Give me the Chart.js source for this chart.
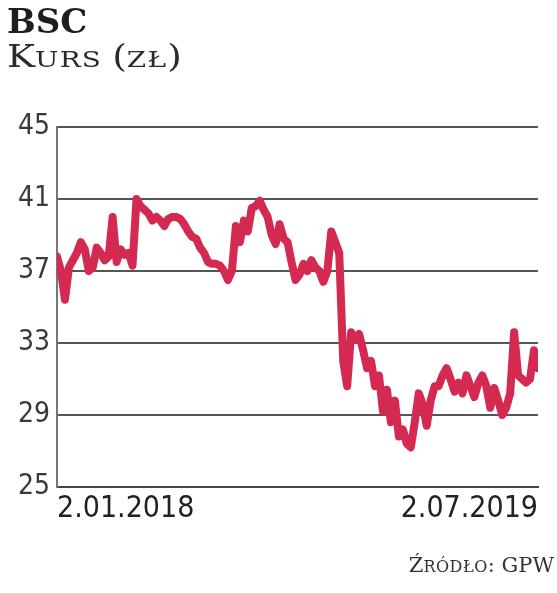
<!DOCTYPE html>
<html>
<head>
<meta charset="utf-8">
<script src="https://cdn.jsdelivr.net/npm/chart.js@4.4.1/dist/chart.umd.min.js"></script>
<style>
  html, body { margin: 0; padding: 0; background: #fff; }
  #wrap { position: relative; width: 557px; height: 593px; overflow: hidden; }
  #c { position: absolute; left: 0; top: 0; }
  .t1 { position: absolute; left: 7px; top: 1px; font-family: "DejaVu Serif", serif; font-weight: bold; font-size: 34px; line-height: 40px; color: #1e1e1e; }
  .t2 { position: absolute; left: 7px; top: 38px; font-family: "DejaVu Serif", serif; font-size: 31px; line-height: 36px; color: #2a2a2a; white-space: nowrap; transform: scaleX(1.21); transform-origin: 0 0; }
  .t2 .sc { font-size: 23px; text-transform: uppercase; letter-spacing: 1px; }
  .src { position: absolute; right: 3px; top: 552px; font-family: "DejaVu Serif", serif; font-size: 21px; line-height: 26px; color: #333; white-space: nowrap; }
  .src .sc { font-size: 16px; text-transform: uppercase; letter-spacing: 0.5px; }
</style>
</head>
<body>
<div id="wrap">
  <canvas id="c" width="557" height="593"></canvas>
  <div class="t1">BSC</div>
  <div class="t2">K<span class="sc">urs </span>(<span class="sc">zł</span>)</div>
  <div class="src">Ź<span class="sc">ródło</span>: GPW</div>
</div>
<script>
// Closing prices (zł), BSC, 2.01.2018 – 2.07.2019
const prices = [
  37.8, 37.0, 35.4, 37.2, 37.6, 38.0, 38.6, 38.2, 37.0, 37.2,
  38.3, 38.0, 37.6, 37.8, 40.0, 37.5, 38.2, 37.9, 38.0, 37.3,
  41.0, 40.6, 40.4, 40.2, 39.8, 40.0, 39.8, 39.5, 39.9, 40.0,
  40.0, 39.9, 39.6, 39.2, 38.9, 38.8, 38.3, 38.0, 37.5, 37.4,
  37.4, 37.3, 37.0, 36.5, 37.0, 39.5, 38.6, 39.8, 39.2, 40.5,
  40.6, 40.9, 40.4, 40.0, 39.0, 38.5, 39.6, 38.8, 38.6, 37.5,
  36.5, 36.8, 37.4, 37.0, 37.6, 37.2, 37.0, 36.4, 37.0, 39.2,
  38.6, 38.0, 32.0, 30.6, 33.6, 33.2, 33.5, 32.6, 31.6, 32.0,
  30.6, 31.2, 29.2, 30.4, 28.6, 29.8, 27.8, 28.2, 27.4, 27.2,
  28.6, 30.2, 29.6, 28.4, 29.8, 30.6, 30.6, 31.2, 31.6, 31.0,
  30.3, 30.8, 30.2, 31.2, 30.6, 30.0, 30.8, 31.2, 30.6, 29.4,
  30.5, 29.8, 29.0, 29.4, 30.2, 33.6, 31.2, 31.0, 30.8, 31.0,
  32.6, 31.6
];
const dateLabels = ['2.01.2018', '2.07.2019'];
const yTicks = [25, 29, 33, 37, 41, 45];

const points = prices.map((v, i) => ({ x: i, y: v }));
const lastIdx = prices.length - 1;

new Chart(document.getElementById('c'), {
  type: 'line',
  data: {
    datasets: [{
      data: points,
      borderColor: '#d42a52',
      borderWidth: 8,
      pointRadius: 0,
      tension: 0,
      borderJoinStyle: 'round',
      borderCapStyle: 'round'
    }]
  },
  options: {
    responsive: false,
    animation: false,
    devicePixelRatio: 1,
    layout: { padding: { left: 0, right: 19, top: 127, bottom: 0 } },
    plugins: { legend: { display: false }, tooltip: { enabled: false } },
    scales: {
      x: {
        type: 'linear',
        min: 0,
        max: lastIdx,
        afterBuildTicks: (s) => { s.ticks = [{ value: 0 }, { value: lastIdx }]; },
        afterFit: (s) => { s.height = 106; },
        grid: { display: false, drawTicks: false },
        border: { display: true, color: '#444', width: 2 },
        ticks: {
          autoSkip: false,
          maxRotation: 0,
          align: 'inner',
          padding: 4,
          color: '#222',
          font: { family: '"Liberation Sans Narrow", "DejaVu Sans Condensed", sans-serif', size: 30 },
          callback: (v) => (v === 0 ? dateLabels[0] : dateLabels[1])
        }
      },
      y: {
        min: 25,
        max: 45,
        afterBuildTicks: (s) => { s.ticks = yTicks.map(v => ({ value: v })); },
        afterFit: (s) => { s.width = 57; },
        grid: { color: '#555', lineWidth: 2, drawTicks: false },
        border: { display: true, color: '#777', width: 2 },
        ticks: {
          padding: 7,
          color: '#3a3a3a',
          font: { family: '"Liberation Sans Narrow", "DejaVu Sans Condensed", sans-serif', size: 28 }
        }
      }
    }
  }
});
</script>
</body>
</html>
